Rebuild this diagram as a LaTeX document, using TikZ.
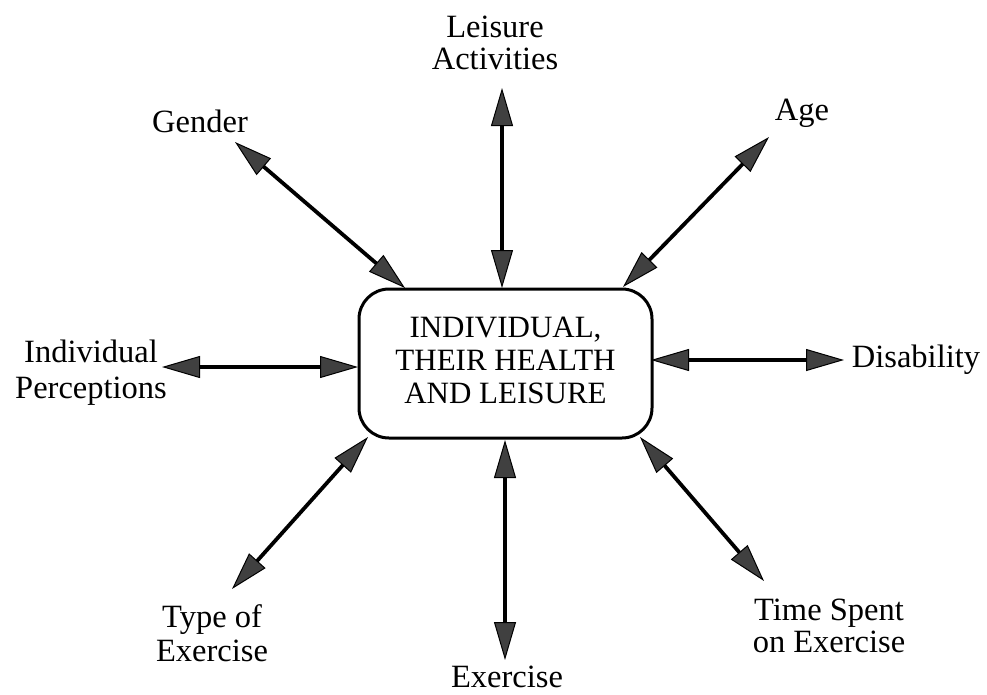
\documentclass[tikz,border=0pt]{standalone}
\usepackage{fontspec}
\setmainfont{Liberation Serif}
\usetikzlibrary{arrows.meta}

% two-line centred label whose reference point is the first baseline
\newcommand{\lbltwo}[3]{\fontsize{32.5}{#1}\selectfont\setlength{\tabcolsep}{0pt}%
  \begin{tabular}[t]{c}#2\\#3\end{tabular}}

\tikzset{
  lbl/.style={anchor=base, inner sep=0pt, font=\fontsize{32.5}{34}\selectfont},
  hub/.style={draw=black, line width=3pt, rounded corners=30pt,
    minimum width=293pt, minimum height=149pt, inner sep=0pt, fill=white},
  link/.style={line width=3.8pt, draw=black,
    {Triangle[length=38pt, width=22pt, line width=1pt, color=black, fill=black!75]}-{Triangle[length=38pt, width=22pt, line width=1pt, color=black, fill=black!75]}}
}

\begin{document}
\begin{tikzpicture}[x=1pt, y=-1pt]
\useasboundingbox (0,0) rectangle (987,694);

% central box
\node[hub] (hub) at (505.5,363.5)
  {\fontsize{31}{33}\selectfont\setlength{\tabcolsep}{0pt}%
   \begin{tabular}{c}INDIVIDUAL,\\THEIR HEALTH\\AND LEISURE\end{tabular}};

% surrounding factors
\node[lbl] (leisure) at (495,37)  {\lbltwo{32}{Leisure}{Activities}};
\node[lbl] (gender)  at (200,132) {Gender};
\node[lbl] (age)     at (802,120) {Age};
\node[lbl] (percep)  at (91,362)  {\lbltwo{36}{Individual}{Perceptions}};
\node[lbl] (disab)   at (916,367) {Disability};
\node[lbl] (type)    at (212,627) {\lbltwo{34}{Type of}{Exercise}};
\node[lbl] (exer)    at (507,687) {Exercise};
\node[lbl] (time)    at (829,620) {\lbltwo{32}{Time Spent}{on Exercise}};

% arrow end points
\coordinate (leisure-o) at (502,88);   \coordinate (leisure-i) at (502,288);
\coordinate (gender-o)  at (235,142);  \coordinate (gender-i)  at (405,288);
\coordinate (age-o)     at (769,137);  \coordinate (age-i)     at (623,287);
\coordinate (percep-o)  at (162,367);  \coordinate (percep-i)  at (358,367);
\coordinate (disab-o)   at (844,360);  \coordinate (disab-i)   at (651,360);
\coordinate (type-o)    at (232,589);  \coordinate (type-i)    at (368,437);
\coordinate (exer-o)    at (505,660);  \coordinate (exer-i)    at (505,440);
\coordinate (time-o)    at (764,581);  \coordinate (time-i)    at (640,437);

% two-way links
\foreach \k in {leisure,gender,age,percep,disab,type,exer,time}
  \draw[link] (\k-o) -- (\k-i);
\end{tikzpicture}
\end{document}
